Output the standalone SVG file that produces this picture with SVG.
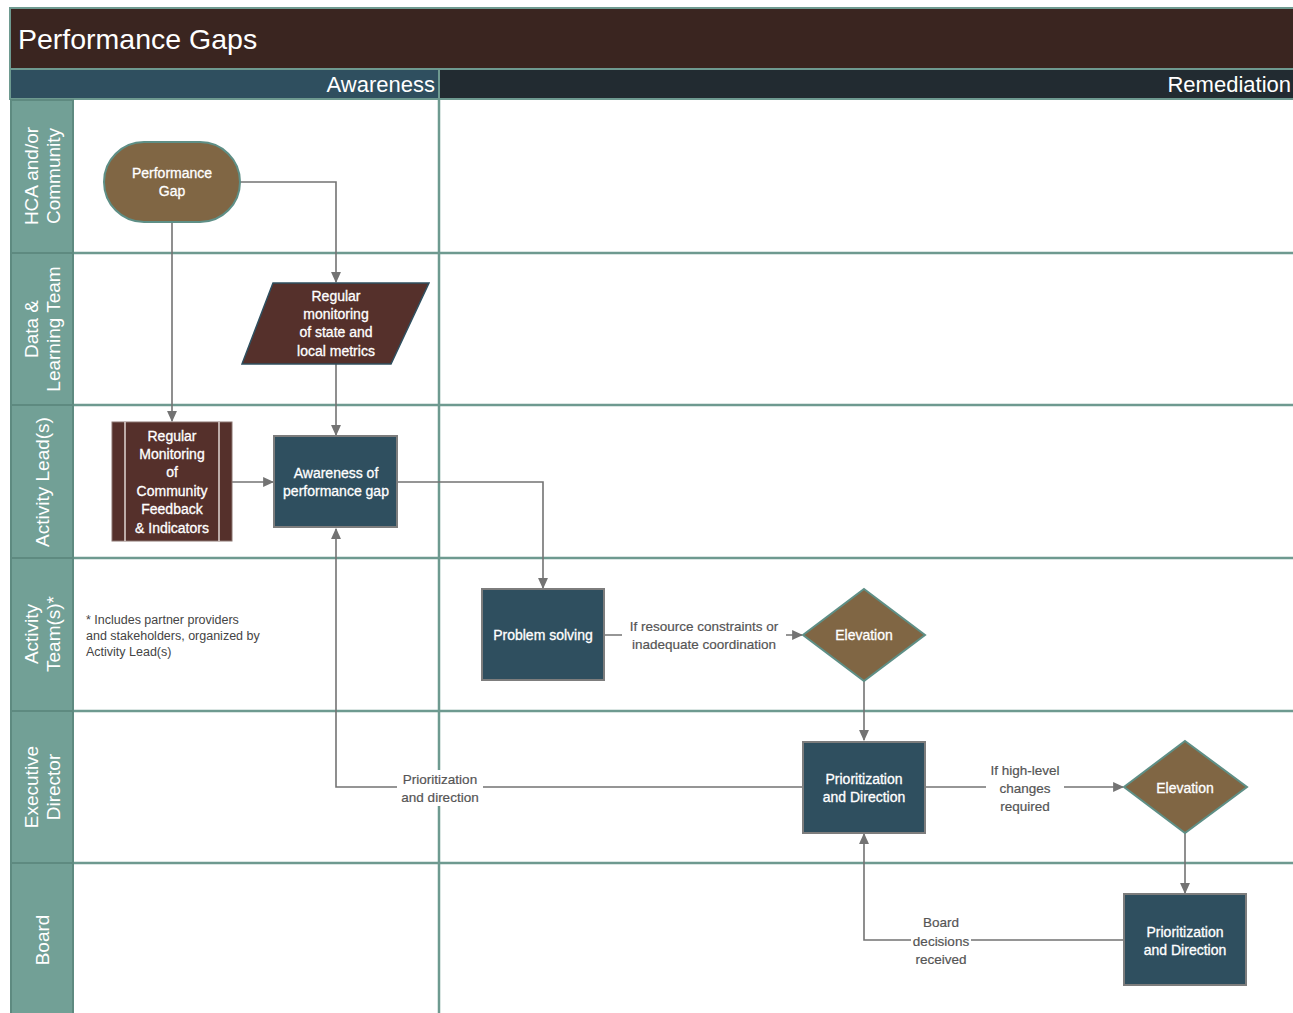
<svg xmlns="http://www.w3.org/2000/svg" width="1293" height="1013" viewBox="0 0 1293 1013">
<style>
text{font-family:"Liberation Sans",Arial,sans-serif}
.lane{fill:#72a096;stroke:#5e8a80;stroke-width:2}
.sep{stroke:#6e9a90;stroke-width:2.5;fill:none}
.lt{fill:#ffffff;font-size:19px;text-anchor:middle}
.nt{fill:#ffffff;font-size:14px;text-anchor:middle;stroke:#ffffff;stroke-width:0.3}
.cl{fill:#555555;font-size:13.5px;text-anchor:middle;stroke:#555555;stroke-width:0.2}
.con{stroke:#737373;stroke-width:1.6;fill:none}
.blue{fill:#2f4f5f;stroke:#7d7d7d;stroke-width:2}
.brown{fill:#806644;stroke:#5e8f86;stroke-width:2}
.red{fill:#55302b}
</style>
<defs>
<marker id="arr" viewBox="0 0 10 10" refX="9" refY="5" markerWidth="11" markerHeight="11" markerUnits="userSpaceOnUse" orient="auto"><path d="M0,0.5L10,5L0,9.5z" fill="#737373"/></marker>
</defs>
<rect width="1293" height="1013" fill="#ffffff"/>
<g id="frame">
<rect x="10" y="8" width="1285" height="61" fill="#3a2520" stroke="#6e9a90" stroke-width="2"/>
<text x="18" y="49" fill="#ffffff" font-size="28.5">Performance Gaps</text>
<rect x="10" y="69" width="429" height="30" fill="#2f4f5f" stroke="#6e9a90" stroke-width="2"/>
<rect x="439" y="69" width="856" height="30" fill="#222b31" stroke="#6e9a90" stroke-width="2"/>
<text x="435" y="92" fill="#ffffff" font-size="22" text-anchor="end">Awareness</text>
<text x="1291" y="92" fill="#ffffff" font-size="22" text-anchor="end">Remediation</text>
<line class="sep" x1="439" y1="99" x2="439" y2="1013"/>
<line class="sep" x1="10" y1="253" x2="1295" y2="253"/>
<line class="sep" x1="10" y1="405" x2="1295" y2="405"/>
<line class="sep" x1="10" y1="558" x2="1295" y2="558"/>
<line class="sep" x1="10" y1="711" x2="1295" y2="711"/>
<line class="sep" x1="10" y1="863" x2="1295" y2="863"/>
<rect class="lane" x="11" y="100" width="62" height="153"/>
<rect class="lane" x="11" y="253" width="62" height="152"/>
<rect class="lane" x="11" y="405" width="62" height="153"/>
<rect class="lane" x="11" y="558" width="62" height="153"/>
<rect class="lane" x="11" y="711" width="62" height="152"/>
<rect class="lane" x="11" y="863" width="62" height="152"/>
<text class="lt" transform="translate(42,176) rotate(-90)"><tspan x="0" y="-4">HCA and/or</tspan><tspan x="0" y="18">Community</tspan></text>
<text class="lt" transform="translate(42,329) rotate(-90)"><tspan x="0" y="-4">Data &amp;</tspan><tspan x="0" y="18">Learning Team</tspan></text>
<text class="lt" transform="translate(42,482) rotate(-90)"><tspan x="0" y="7">Activity Lead(s)</tspan></text>
<text class="lt" transform="translate(42,634) rotate(-90)"><tspan x="0" y="-4">Activity</tspan><tspan x="0" y="18">Team(s)*</tspan></text>
<text class="lt" transform="translate(42,787) rotate(-90)"><tspan x="0" y="-4">Executive</tspan><tspan x="0" y="18">Director</tspan></text>
<text class="lt" transform="translate(42,940) rotate(-90)"><tspan x="0" y="7">Board</tspan></text>
<text fill="#444444" font-size="12.5"><tspan x="86" y="624">* Includes partner providers</tspan><tspan x="86" y="640">and stakeholders, organized by</tspan><tspan x="86" y="656">Activity Lead(s)</tspan></text>
</g>
<g id="connectors">
<path class="con" d="M240,182H336V282" marker-end="url(#arr)"/>
<path class="con" d="M172,222V421" marker-end="url(#arr)"/>
<path class="con" d="M336,364V435" marker-end="url(#arr)"/>
<path class="con" d="M232,482H273" marker-end="url(#arr)"/>
<path class="con" d="M397,482H543V588" marker-end="url(#arr)"/>
<path class="con" d="M604,635H802" marker-end="url(#arr)"/>
<path class="con" d="M864,681V740" marker-end="url(#arr)"/>
<path class="con" d="M803,787H336V529" marker-end="url(#arr)"/>
<path class="con" d="M925,787H1123" marker-end="url(#arr)"/>
<path class="con" d="M1185,833V893" marker-end="url(#arr)"/>
<path class="con" d="M1124,940H864V834" marker-end="url(#arr)"/>
<rect x="622" y="616" width="164" height="38" fill="#ffffff"/>
<text class="cl"><tspan x="704" y="631">If resource constraints or</tspan><tspan x="704" y="649">inadequate coordination</tspan></text>
<rect x="397" y="770" width="86" height="36" fill="#ffffff"/>
<text class="cl"><tspan x="440" y="784">Prioritization</tspan><tspan x="440" y="802">and direction</tspan></text>
<rect x="986" y="760" width="78" height="56" fill="#ffffff"/>
<text class="cl"><tspan x="1025" y="775">If high-level</tspan><tspan x="1025" y="793">changes</tspan><tspan x="1025" y="811">required</tspan></text>
<rect x="911" y="913" width="60" height="55" fill="#ffffff"/>
<text class="cl"><tspan x="941" y="927">Board</tspan><tspan x="941" y="946">decisions</tspan><tspan x="941" y="964">received</tspan></text>
</g>
<g id="performance-gap">
<rect class="brown" x="104" y="142" width="136" height="80" rx="40" ry="40"/>
<text class="nt"><tspan x="172" y="178">Performance</tspan><tspan x="172" y="196">Gap</tspan></text>
</g>
<g id="regular-monitoring-metrics">
<polygon class="red" points="273,283 429,283 391,364 242,364" stroke="#2f4f5f" stroke-width="1.5"/>
<text class="nt"><tspan x="336" y="301">Regular</tspan><tspan x="336" y="319">monitoring</tspan><tspan x="336" y="337">of state and</tspan><tspan x="336" y="356">local metrics</tspan></text>
</g>
<g id="regular-monitoring-community">
<rect class="red" x="112" y="422" width="120" height="119" stroke="#8a7470" stroke-width="1"/>
<line x1="125" y1="422" x2="125" y2="541" stroke="#e0d6d3" stroke-width="1.5"/>
<line x1="219" y1="422" x2="219" y2="541" stroke="#e0d6d3" stroke-width="1.5"/>
<text class="nt"><tspan x="172" y="441">Regular</tspan><tspan x="172" y="459">Monitoring</tspan><tspan x="172" y="477">of</tspan><tspan x="172" y="496">Community</tspan><tspan x="172" y="514">Feedback</tspan><tspan x="172" y="533">&amp; Indicators</tspan></text>
</g>
<g id="awareness-gap">
<rect class="blue" x="274" y="436" width="123" height="91"/>
<text class="nt"><tspan x="336" y="478">Awareness of</tspan><tspan x="336" y="496">performance gap</tspan></text>
</g>
<g id="problem-solving">
<rect class="blue" x="482" y="589" width="122" height="91"/>
<text class="nt"><tspan x="543" y="640">Problem solving</tspan></text>
</g>
<g id="elevation-1">
<polygon class="brown" points="864,589 925,635 864,681 803,635"/>
<text class="nt"><tspan x="864" y="640">Elevation</tspan></text>
</g>
<g id="prioritization-1">
<rect class="blue" x="803" y="742" width="122" height="91"/>
<text class="nt"><tspan x="864" y="784">Prioritization</tspan><tspan x="864" y="802">and Direction</tspan></text>
</g>
<g id="elevation-2">
<polygon class="brown" points="1185,741 1247,787 1185,833 1124,787"/>
<text class="nt"><tspan x="1185" y="793">Elevation</tspan></text>
</g>
<g id="prioritization-2">
<rect class="blue" x="1124" y="894" width="122" height="91"/>
<text class="nt"><tspan x="1185" y="937">Prioritization</tspan><tspan x="1185" y="955">and Direction</tspan></text>
</g>
</svg>
